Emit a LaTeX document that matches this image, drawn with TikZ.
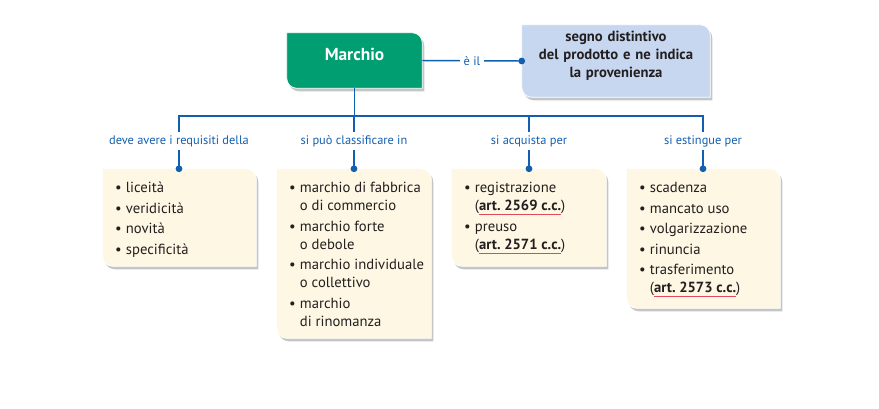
\documentclass[tikz,border=0pt]{standalone}
\usepackage{fontspec}
\setmainfont{PT Sans}
\usetikzlibrary{positioning,fit,backgrounds,arrows.meta}
\definecolor{markgreen}{RGB}{0,158,112}
\definecolor{headblue}{RGB}{199,215,240}
\definecolor{linkblue}{RGB}{18,94,176}
\definecolor{cream}{RGB}{253,247,227}
\definecolor{ink}{RGB}{35,31,32}
\definecolor{artred}{RGB}{226,72,92}
\newcommand\itm{\makebox[8.2pt][l]{\textbullet}}
\newcommand\cnt{\hspace*{8.2pt}}
\newcommand\nx{\\[1.9pt]}
\newcommand\art[1]{{\bfseries\setbox0\hbox{art.~#1 c.c.}\rlap{\color{artred}\rule[-3.5pt]{\wd0}{0.8pt}}\box0}}
\newcommand\cardpath[4]{([shift={(#3,#4)}]#1.north west) -- ([shift={(#3-#2,#4)}]#1.north east) arc[start angle=-90,end angle=0,radius=#2] -- ([shift={(#3,#4)}]#1.south east) -- ([shift={(#3+#2,#4)}]#1.south west) arc[start angle=90,end angle=180,radius=#2] -- cycle}
\newcommand\card[3]{\begin{scope}[on background layer]
  \fill[black!45,opacity=.5] \cardpath{#1}{#3}{2}{3};
  \fill[#2,draw=white,line width=.6pt] \cardpath{#1}{#3}{0}{0};
\end{scope}}
\begin{document}
\begin{tikzpicture}[x=0.75pt,y=-0.75pt,
  link/.style={draw=linkblue,line width=1.1pt},
  dot/.style={-{Circle[length=5pt]},shorten >=-2.5pt},
  tag/.style={text=linkblue,font=\fontsize{9.3}{11}\selectfont,inner sep=2pt,text height=7pt,text depth=2pt},
  frame/.style={inner sep=0pt},
  list/.style={anchor=north west,inner sep=0pt,align=left,text=ink,font=\fontsize{11}{13.5}\selectfont}]
\useasboundingbox (0,0) rectangle (879,408);
\node[frame,fit={(287,33) (422,88)},text=white,font=\bfseries\fontsize{13}{15}\selectfont] (mark) {Marchio};
\node[frame,fit={(522,25) (710,97)},align=center,text=ink,font=\bfseries\fontsize{11}{13.5}\selectfont] (def) {segno distintivo\\ del prodotto e ne indica\\ la provenienza};
\card{mark}{markgreen}{10}
\card{def}{headblue}{10}
\draw[link,dot] (mark.east) -- node[fill=white,text=linkblue,font=\fontsize{9.3}{11}\selectfont,inner sep=3pt] (isa) {è il} (def.west);
\coordinate (bar) at (0,116);
\node[tag] (lreq) at (179,141) {deve avere i requisiti della};
\node[tag] (lcls) at (354,141) {si può classificare in};
\node[tag] (lacq) at (529,141) {si acquista per};
\node[tag] (lest) at (703,141) {si estingue per};
\node[frame,fit={(103,169) (256,266)}] (req) {};
\node[frame,fit={(277,169) (431,338)}] (cls) {};
\node[frame,fit={(452,169) (606,266)}] (acq) {};
\node[frame,fit={(627,169) (780,308)}] (est) {};
\foreach \b in {req,cls,acq,est}
  \card{\b}{cream}{10};
\draw[link] (mark.south) -- (mark.south |- bar);
\draw[link] (lreq.north) -- (lreq.north |- bar) -- (lest.north |- bar) -- (lest.north);
\draw[link] (lcls.north |- bar) -- (lcls.north);
\draw[link] (lacq.north |- bar) -- (lacq.north);
\foreach \l/\b in {lreq/req,lcls/cls,lacq/acq,lest/est}
  \draw[link,dot] (\l.south) -- (\l.south |- \b.north);
\node[list] (reqtxt) at ([shift={(12,11)}]req.north west) {\strut\itm liceità\nx \itm veridicità\nx \itm novità\nx \itm specificità};
\node[list] (clstxt) at ([shift={(12,11)}]cls.north west) {\strut\itm marchio di fabbrica\\ \cnt o di commercio\nx \itm marchio forte\\ \cnt o debole\nx \itm marchio individuale\\ \cnt o collettivo\nx \itm marchio\\ \cnt di rinomanza};
\node[list] (acqtxt) at ([shift={(12,11)}]acq.north west) {\strut\itm registrazione\\ \cnt(\art{2569})\nx \itm preuso\\ \cnt(\art{2571})};
\node[list] (esttxt) at ([shift={(12,11)}]est.north west) {\strut\itm scadenza\nx \itm mancato uso\nx \itm volgarizzazione\nx \itm rinuncia\nx \itm trasferimento\\ \cnt(\art{2573})};
\end{tikzpicture}
\end{document}
